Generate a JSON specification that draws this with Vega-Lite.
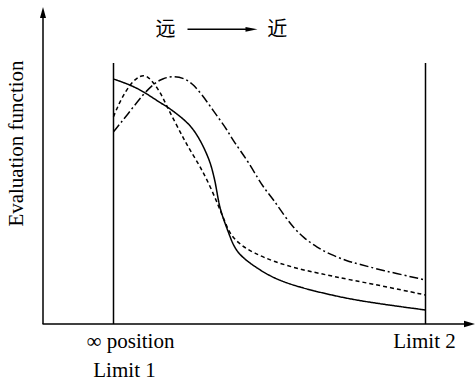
{
  "$schema": "https://vega.github.io/schema/vega-lite/v6.json",
  "width": 476,
  "height": 386,
  "autosize": "none",
  "padding": 0,
  "background": "white",
  "config": {"view": {"stroke": null}},
  "datasets": {
    "curves": [
      {"series": "solid", "x": 71, "y": 245}, {"series": "solid", "x": 88, "y": 239}, {"series": "solid", "x": 101.3, "y": 232.3}, {"series": "solid", "x": 118, "y": 221}, {"series": "solid", "x": 124.7, "y": 217.3}, {"series": "solid", "x": 138, "y": 207.5}, {"series": "solid", "x": 149.5, "y": 197}, {"series": "solid", "x": 157.5, "y": 184}, {"series": "solid", "x": 162.5, "y": 174}, {"series": "solid", "x": 168, "y": 161}, {"series": "solid", "x": 171, "y": 149}, {"series": "solid", "x": 173, "y": 140.7}, {"series": "solid", "x": 176.3, "y": 120.7}, {"series": "solid", "x": 179, "y": 111}, {"series": "solid", "x": 181.3, "y": 104}, {"series": "solid", "x": 186.3, "y": 90.7}, {"series": "solid", "x": 191.3, "y": 77.3}, {"series": "solid", "x": 199, "y": 67}, {"series": "solid", "x": 214.7, "y": 55.7}, {"series": "solid", "x": 231.3, "y": 45.7}, {"series": "solid", "x": 254.7, "y": 37.3}, {"series": "solid", "x": 288, "y": 29}, {"series": "solid", "x": 321.3, "y": 22.3}, {"series": "solid", "x": 383, "y": 14},
      {"series": "dashed", "x": 71, "y": 207.3}, {"series": "dashed", "x": 78, "y": 224}, {"series": "dashed", "x": 88, "y": 240.7}, {"series": "dashed", "x": 98, "y": 249}, {"series": "dashed", "x": 104.7, "y": 248.3}, {"series": "dashed", "x": 111.3, "y": 240.7}, {"series": "dashed", "x": 118, "y": 231.5}, {"series": "dashed", "x": 124.7, "y": 217}, {"series": "dashed", "x": 133, "y": 201}, {"series": "dashed", "x": 141.3, "y": 185}, {"series": "dashed", "x": 148, "y": 173}, {"series": "dashed", "x": 158, "y": 157}, {"series": "dashed", "x": 168, "y": 137}, {"series": "dashed", "x": 176.3, "y": 117.3}, {"series": "dashed", "x": 183, "y": 100.7}, {"series": "dashed", "x": 188, "y": 89}, {"series": "dashed", "x": 198, "y": 79}, {"series": "dashed", "x": 211.3, "y": 71}, {"series": "dashed", "x": 231.3, "y": 62.3}, {"series": "dashed", "x": 258, "y": 54.5}, {"series": "dashed", "x": 284.7, "y": 49}, {"series": "dashed", "x": 304.7, "y": 44.7}, {"series": "dashed", "x": 338, "y": 38.5}, {"series": "dashed", "x": 383, "y": 29},
      {"series": "dashdot", "x": 71, "y": 192.3}, {"series": "dashdot", "x": 84.7, "y": 209}, {"series": "dashdot", "x": 101.3, "y": 230.7}, {"series": "dashdot", "x": 113, "y": 241.7}, {"series": "dashdot", "x": 119.7, "y": 245}, {"series": "dashdot", "x": 129.7, "y": 248.3}, {"series": "dashdot", "x": 143, "y": 245.5}, {"series": "dashdot", "x": 151.3, "y": 239}, {"series": "dashdot", "x": 159.7, "y": 229}, {"series": "dashdot", "x": 168, "y": 217.3}, {"series": "dashdot", "x": 176.3, "y": 205.7}, {"series": "dashdot", "x": 184.7, "y": 194}, {"series": "dashdot", "x": 191.3, "y": 182.3}, {"series": "dashdot", "x": 204.7, "y": 164}, {"series": "dashdot", "x": 216.3, "y": 144}, {"series": "dashdot", "x": 223, "y": 134}, {"series": "dashdot", "x": 231.3, "y": 124}, {"series": "dashdot", "x": 241.3, "y": 109}, {"series": "dashdot", "x": 251.3, "y": 96}, {"series": "dashdot", "x": 261.3, "y": 86}, {"series": "dashdot", "x": 274.7, "y": 76.5}, {"series": "dashdot", "x": 288, "y": 69.5}, {"series": "dashdot", "x": 304.7, "y": 63}, {"series": "dashdot", "x": 316.3, "y": 60}, {"series": "dashdot", "x": 338, "y": 54}, {"series": "dashdot", "x": 383, "y": 44}
    ],
    "lines": [
      {"name": "yaxis", "x": 0.5, "y": 0, "x2": 0.5, "y2": 310},
      {"name": "xaxis", "x": 0, "y": 0, "x2": 428, "y2": 0},
      {"name": "limit1", "x": 71, "y": 0, "x2": 71, "y2": 261},
      {"name": "limit2", "x": 383, "y": 0, "x2": 383, "y2": 261},
      {"name": "toparrow", "x": 145, "y": 294.7, "x2": 204, "y2": 294.7}
    ],
    "labels": [
      {"text": "∞ position", "x": 88, "y": -24},
      {"text": "Limit 1", "x": 82, "y": -53},
      {"text": "Limit 2", "x": 382, "y": -24}
    ],
    "cjk": [
      {"text": "远", "x": 123, "y": 294.5},
      {"text": "近", "x": 234.7, "y": 294.5}
    ],
    "ylabel": [
      {"text": "Evaluation function", "x": -26, "y": 180.5}
    ]
  },
  "layer": [
    {
      "data": {"name": "lines"},
      "mark": {"type": "rule", "color": "black", "strokeWidth": 1.5},
      "encoding": {
        "x": {"field": "x", "type": "quantitative", "scale": {"domain": [-42.5, 433.5], "nice": false, "zero": false}, "axis": null},
        "y": {"field": "y", "type": "quantitative", "scale": {"domain": [-62, 324], "nice": false, "zero": false}, "axis": null},
        "x2": {"field": "x2"},
        "y2": {"field": "y2"}
      }
    },
    {
      "data": {"values": [{"x": 0.5, "y": 311.5}]},
      "mark": {"type": "point", "shape": "M0,-1L0.55,1L-0.55,1Z", "filled": true, "color": "black", "opacity": 1, "size": 121},
      "encoding": {
        "x": {"field": "x", "type": "quantitative", "scale": {"domain": [-42.5, 433.5], "nice": false, "zero": false}, "axis": null},
        "y": {"field": "y", "type": "quantitative", "scale": {"domain": [-62, 324], "nice": false, "zero": false}, "axis": null}
      }
    },
    {
      "data": {"values": [{"x": 427, "y": 0}]},
      "mark": {"type": "point", "shape": "M1,0L-1,0.6L-1,-0.6Z", "filled": true, "color": "black", "opacity": 1, "size": 121},
      "encoding": {
        "x": {"field": "x", "type": "quantitative", "scale": {"domain": [-42.5, 433.5], "nice": false, "zero": false}, "axis": null},
        "y": {"field": "y", "type": "quantitative", "scale": {"domain": [-62, 324], "nice": false, "zero": false}, "axis": null}
      }
    },
    {
      "data": {"values": [{"x": 209, "y": 294.7}]},
      "mark": {"type": "point", "shape": "M1,0L-1,0.4L-1,-0.4Z", "filled": true, "color": "black", "opacity": 1, "size": 144},
      "encoding": {
        "x": {"field": "x", "type": "quantitative", "scale": {"domain": [-42.5, 433.5], "nice": false, "zero": false}, "axis": null},
        "y": {"field": "y", "type": "quantitative", "scale": {"domain": [-62, 324], "nice": false, "zero": false}, "axis": null}
      }
    },
    {
      "data": {"name": "curves"},
      "mark": {"type": "line", "color": "black", "strokeWidth": 1.5, "interpolate": "basis"},
      "encoding": {
        "x": {"field": "x", "type": "quantitative", "scale": {"domain": [-42.5, 433.5], "nice": false, "zero": false}, "axis": null},
        "y": {"field": "y", "type": "quantitative", "scale": {"domain": [-62, 324], "nice": false, "zero": false}, "axis": null},
        "detail": {"field": "series"},
        "strokeDash": {"field": "series", "type": "nominal", "scale": {"domain": ["solid", "dashed", "dashdot"], "range": [[1, 0], [4, 3], [9, 3, 2, 3]]}, "legend": null}
      }
    },
    {
      "data": {"name": "labels"},
      "mark": {"type": "text", "font": "Liberation Serif", "fontSize": 21, "align": "center", "baseline": "alphabetic", "color": "black"},
      "encoding": {
        "x": {"field": "x", "type": "quantitative", "scale": {"domain": [-42.5, 433.5], "nice": false, "zero": false}, "axis": null},
        "y": {"field": "y", "type": "quantitative", "scale": {"domain": [-62, 324], "nice": false, "zero": false}, "axis": null},
        "text": {"field": "text"}
      }
    },
    {
      "data": {"name": "ylabel"},
      "mark": {"type": "text", "font": "Liberation Serif", "fontSize": 21, "align": "center", "baseline": "middle", "angle": 270, "color": "black"},
      "encoding": {
        "x": {"field": "x", "type": "quantitative", "scale": {"domain": [-42.5, 433.5], "nice": false, "zero": false}, "axis": null},
        "y": {"field": "y", "type": "quantitative", "scale": {"domain": [-62, 324], "nice": false, "zero": false}, "axis": null},
        "text": {"field": "text"}
      }
    },
    {
      "data": {"name": "cjk"},
      "mark": {"type": "text", "font": "Noto Sans CJK SC", "fontSize": 20, "align": "center", "baseline": "middle", "color": "black"},
      "encoding": {
        "x": {"field": "x", "type": "quantitative", "scale": {"domain": [-42.5, 433.5], "nice": false, "zero": false}, "axis": null},
        "y": {"field": "y", "type": "quantitative", "scale": {"domain": [-62, 324], "nice": false, "zero": false}, "axis": null},
        "text": {"field": "text"}
      }
    }
  ]
}
